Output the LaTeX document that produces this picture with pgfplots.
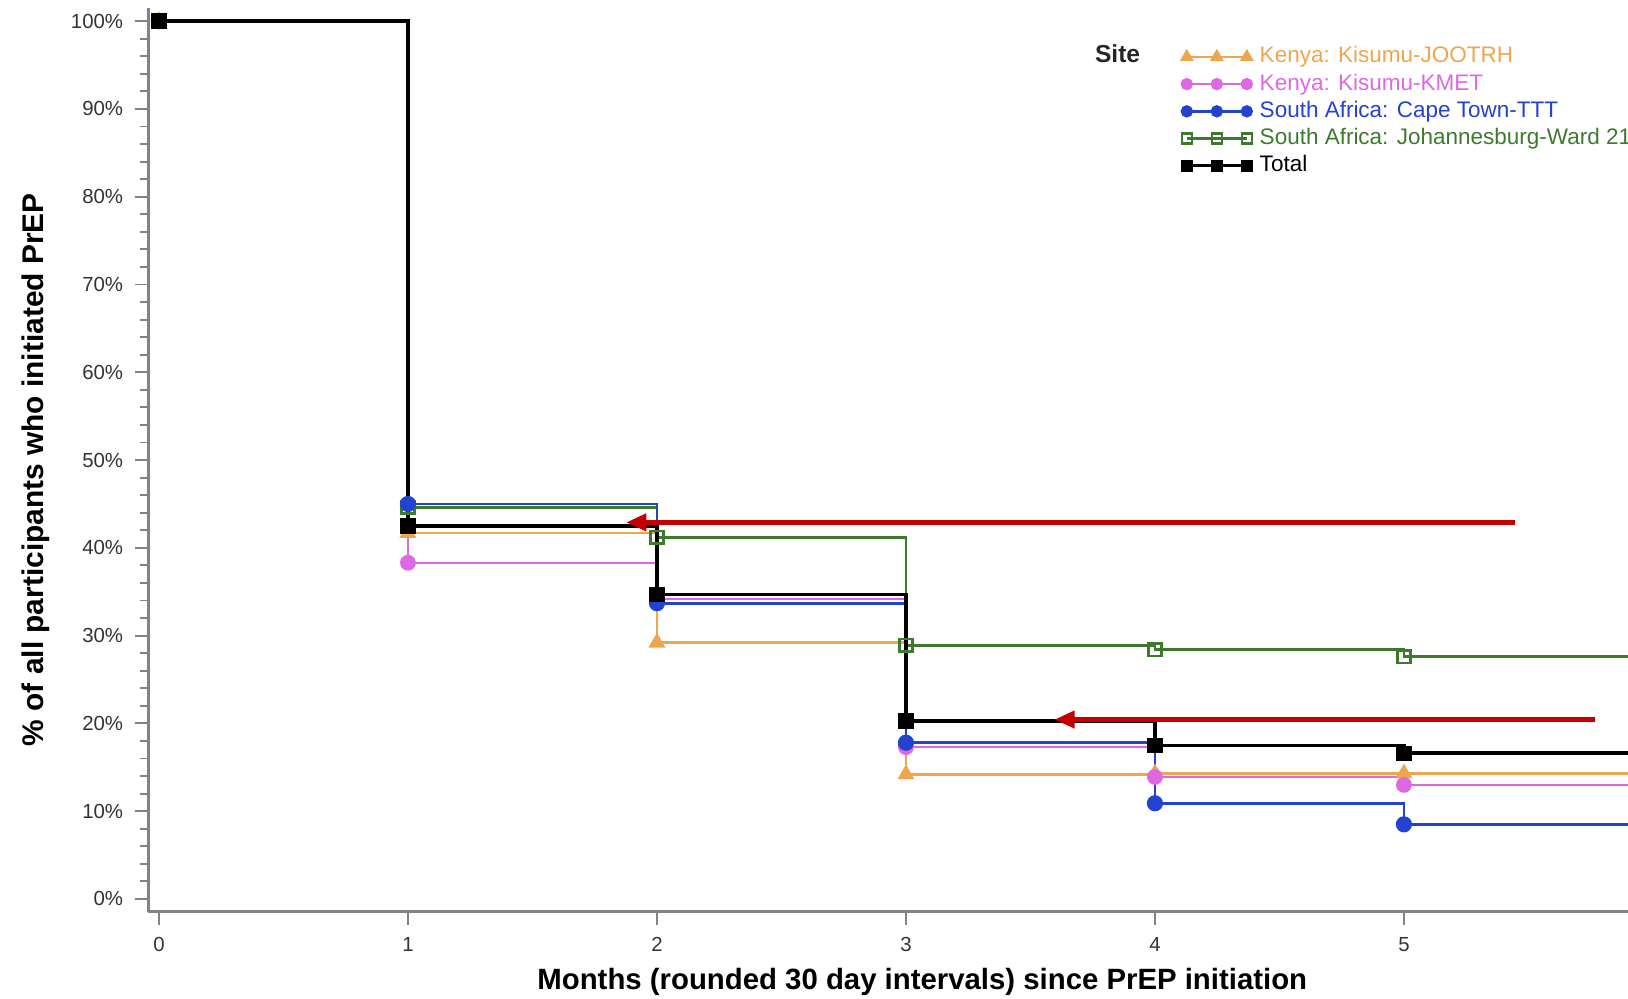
\documentclass[border=0pt]{standalone}
\usepackage{pgfplots}
\pgfplotsset{compat=1.18}
\usepackage{fontspec}
\setmainfont{Liberation Sans}
\usetikzlibrary{arrows.meta}

\definecolor{cjoo}{RGB}{238,166,78}
\definecolor{ckmet}{RGB}{222,104,226}
\definecolor{cttt}{RGB}{36,66,208}
\definecolor{cward}{RGB}{62,122,46}
\definecolor{carrow}{RGB}{196,0,0}
\definecolor{axgray}{RGB}{130,130,130}

\begin{document}
\begin{tikzpicture}
\begin{axis}[
    at={(0,0)}, anchor=south west,
    scale only axis, width=14.795cm, height=9.036cm,
    xmin=-0.042, xmax=5.9, ymin=-1.44, ymax=101.5,
    axis x line*=bottom, axis y line*=left,
    axis line style={draw=axgray, line width=0.65pt, -},
    tick align=outside,
    major tick length=0.13cm, minor tick length=0.08cm,
    every tick/.style={draw=axgray, line width=0.55pt},
    xtick={0,1,2,3,4,5},
    ytick={0,10,...,100}, minor y tick num=4,
    yticklabel={\pgfmathprintnumber{\tick}\%},
    /pgf/number format/assume math mode=true,
    tick label style={font=\fontsize{5.8}{6}\selectfont, text=black!80},
    xlabel={Months (rounded 30 day intervals) since PrEP initiation},
    ylabel={\% of all participants who initiated PrEP},
    xlabel style={font=\fontsize{8.35}{10}\selectfont\bfseries,
        at={(axis description cs:0.523,-0.078)}, anchor=center},
    ylabel style={font=\fontsize{8.5}{10}\selectfont\bfseries,
        at={(axis description cs:-0.076,0.489)}, anchor=center},
    legend image code/.code={
        \draw[mark repeat=1,mark phase=1,#1]
        plot coordinates {(0cm,0cm) (0.3cm,0cm) (0.6cm,0cm)};},
    legend style={draw=none, fill=none, inner sep=0pt,
        at={(axis description cs:0.698,0.958)}, anchor=north west,
        font=\fontsize{6.4}{7}\selectfont,
        nodes={inner sep=0pt, text height=4.6pt, text depth=1.2pt, anchor=west},
        row sep=1.95pt, column sep=0.08cm},
    legend cell align=left,
]

% Kenya: Kisumu-JOOTRH
\addplot[const plot, forget plot, cjoo, line width=0.7pt,
    mark=triangle*, mark size=2.1pt] coordinates {
    (0,100) (1,41.7) (2,29.2) (3,14.2) (4,14.3) (5,14.3) (6.3,14.3)};
% Kenya: Kisumu-KMET
\addplot[const plot, forget plot, ckmet, line width=0.7pt,
    mark=*, mark size=1.9pt] coordinates {
    (0,100) (1,38.3) (2,34.2) (3,17.3) (4,13.9) (5,13.0) (6.3,13.0)};
% South Africa: Johannesburg-Ward 21
\addplot[const plot, forget plot, cward, line width=0.8pt,
    mark=square, mark size=1.8pt, mark options={line width=0.8pt}] coordinates {
    (0,100) (1,44.6) (2,41.2) (3,28.9) (4,28.4) (5,27.6) (6.3,27.6)};
% South Africa: Cape Town-TTT
\addplot[const plot, forget plot, cttt, line width=0.8pt,
    mark=*, mark size=1.9pt] coordinates {
    (0,100) (1,45.0) (2,33.7) (3,17.8) (4,10.9) (5,8.5) (6.3,8.5)};
% Total
\addplot[const plot, forget plot, black, line width=1pt,
    mark=square*, mark size=1.7pt] coordinates {
    (0,100) (1,42.5) (2,34.7) (3,20.3) (4,17.5) (5,16.6) (6.3,16.6)};

\addlegendimage{cjoo, line width=0.7pt, mark=triangle*, mark size=1.6pt}
\addlegendentry{\textcolor{cjoo}{Kenya: Kisumu-JOOTRH}}
\addlegendimage{ckmet, line width=0.7pt, mark=*, mark size=1.4pt}
\addlegendentry{\textcolor{ckmet}{Kenya: Kisumu-KMET}}
\addlegendimage{cttt, line width=0.7pt, mark=*, mark size=1.4pt}
\addlegendentry{\textcolor{cttt}{South Africa: Cape Town-TTT}}
\addlegendimage{cward, line width=0.7pt, mark=square, mark size=1.4pt}
\addlegendentry{\textcolor{cward}{South Africa: Johannesburg-Ward 21}}
\addlegendimage{black, line width=0.9pt, mark=square*, mark size=1.3pt}
\addlegendentry{Total}

\node[font=\fontsize{7}{8}\selectfont\bfseries, text=black!85]
    at (axis description cs:0.655,0.949) {Site};

\draw[carrow, line width=1.2pt, -{Triangle[length=0.2cm, width=0.17cm]}]
    (axis cs:5.446,42.9) -- (axis cs:1.877,42.9);
\draw[carrow, line width=1.2pt, -{Triangle[length=0.2cm, width=0.17cm]}]
    (axis cs:5.767,20.44) -- (axis cs:3.597,20.44);
\end{axis}
\pgfresetboundingbox
\path[use as bounding box] (-1.485,-0.864) rectangle (14.795,9.116);
\end{tikzpicture}
\end{document}
